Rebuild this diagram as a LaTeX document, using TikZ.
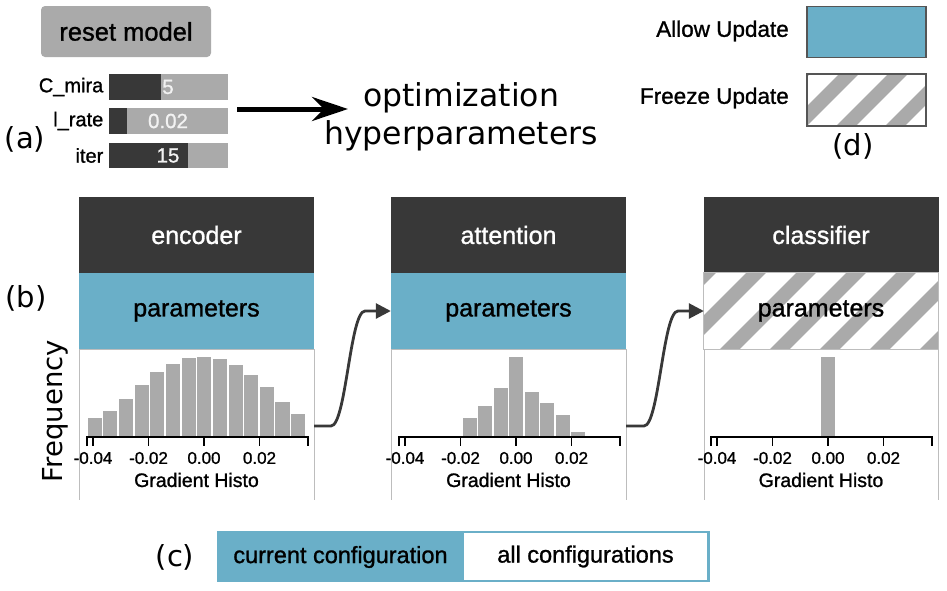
\documentclass[tikz,border=0pt]{standalone}
\usepackage{fontspec}
\setmainfont[FakeBold=1.1]{Liberation Sans}
\newfontfamily\dejavu{DejaVu Sans}
\usetikzlibrary{arrows.meta,calc}
\definecolor{blu}{HTML}{6AAFC8}
\definecolor{dark}{HTML}{383838}
\definecolor{bargray}{HTML}{AAAAAA}
\definecolor{edgegray}{HTML}{BDBDBD}
\definecolor{legedge}{HTML}{555555}
\definecolor{valtxt}{HTML}{F2F2F2}
\newcommand\fsz[1]{\fontsize{#1}{#1}\selectfont}
\tikzset{
  hdr/.style={fill=dark, text=white, minimum width=235pt, minimum height=76pt, inner sep=0pt, font=\fsz{25}},
  prm/.style={fill=blu, minimum width=235pt, minimum height=76pt, inner sep=0pt, font=\fsz{25}},
  hist/.style={minimum width=235pt, minimum height=151pt, inner sep=0pt},
  lbl/.style={inner sep=0pt, font=\fsz{20}},
  val/.style={inner sep=0pt, text=valtxt, font=\fsz{20.5}},
  tick/.style={inner sep=0pt, font=\fsz{17}},
  tag/.style={inner sep=0pt, font=\dejavu\fsz{29}},
  conn/.style={draw=dark, line width=2.8pt, rounded corners=4pt, -{Triangle[length=15pt,width=15pt]}},
  stripe/.style={bargray, line width=14pt},
}
% axis: #1 prefix, #2 x of 0.00, #3 panel centre
\newcommand\histaxis[3]{%
  \draw[line width=1.4pt] ({#2-117},446) -- ({#2-117},437) -- ({#2+104},437) -- ({#2+104},446);
  \foreach \v/\s [count=\k] in {-0.04/-111,-0.02/-55.5,0.00/0,0.02/55.5}{
    \draw[line width=1.4pt] ({#2+\s},437) -- ({#2+\s},446);
    \node[tick] (#1t\k) at ({#2+\s},458) {\v};
  }
  \node[tick, font=\fsz{19.5}] (#1ttl) at (#3,480) {Gradient Histo};
}
\begin{document}
\begin{tikzpicture}[x=1pt,y=-1pt]
\useasboundingbox (0,0) rectangle (947,590);
\fill[white] (0,0) rectangle (947,590);

% ---------- (a) ----------
\node[fill=bargray, rounded corners=4pt, minimum width=170pt, minimum height=51pt, inner sep=0pt, font=\fsz{25.5}] (reset) at (126,31.5) {reset model};

\fill[bargray] (108.5,74) rectangle (228,100);
\fill[dark] (108.5,74) rectangle (161,100);
\fill[bargray] (108.5,108) rectangle (228,134);
\fill[dark] (108.5,108) rectangle (127,134);
\fill[bargray] (108.5,143) rectangle (228,168);
\fill[dark] (108.5,143) rectangle (188,168);
\node[lbl, anchor=east] (l1) at (103.5,87) {C\_mira};
\node[lbl, anchor=east] (l2) at (103.5,121) {l\_rate};
\node[lbl, anchor=east] (l3) at (103.5,155.5) {iter};
\node[val] (v1) at (168,87) {5};
\node[val] (v2) at (168,121) {0.02};
\node[val] (v3) at (168,155.5) {15};
\node[tag] (ta) at (25,139) {(a)};

\coordinate (ar1) at (237,109);
\coordinate (ar2) at (348,109);
\draw[line width=5pt, -{Stealth[length=36pt,width=24pt,inset=12pt]}] (ar1) -- (ar2);
\node[inner sep=0pt, font=\dejavu\fsz{31.5}, anchor=base] (opt) at (461,106) {optimization};
\node[inner sep=0pt, font=\dejavu\fsz{31.5}, anchor=base] (hyp) at (461,144) {hyperparameters};

% ---------- (d) ----------
\node[inner sep=0pt, font=\fsz{22.5}, anchor=east] (allowt) at (789,31) {Allow Update};
\node[inner sep=0pt, font=\fsz{22.5}, anchor=east] (freezet) at (789,98) {Freeze Update};
\node[draw=legedge, line width=1.6pt, fill=blu, minimum width=119pt, minimum height=51pt, inner sep=0pt] (allow) at (866.5,32) {};
\node[fill=white, minimum width=119pt, minimum height=52pt, inner sep=0pt] (freeze) at (866.5,100) {};
\begin{scope}
  \clip (freeze.north west) rectangle (freeze.south east);
  \foreach \c in {712,761,810,859,908,957,1006}
    \draw[stripe] (\c,64) -- ++(-72,72);
\end{scope}
\draw[legedge, line width=1.6pt] (freeze.north west) rectangle (freeze.south east);
\node[tag] (td) at (853,146) {(d)};

% ---------- (b) panels ----------
\node[tag] (tb) at (26,298) {(b)};
\node[rotate=90, inner sep=0pt, font=\dejavu\fsz{27.5}] (freq) at (55,411) {Frequency};

% encoder
\node[hdr] (ehdr) at (196.5,235) {encoder};
\node[prm] (eprm) at (196.5,311) {parameters};
\node[hist] (ehist) at (196.5,424.5) {};
\draw[edgegray, line width=1pt] (79,349) -- (79,500) (314,349) -- (314,500) (79,349) -- (314,349);
\foreach \t [count=\i from 0] in {417.7,411,399.3,385,372.3,363.7,358.3,356.7,359,365,374.7,387.3,401.7,414.3}
  \fill[bargray] ({87+\i*15.64+0.8},436) rectangle ({87+(\i+1)*15.64-0.8},\t);
\histaxis{e}{204}{196.5}

% attention
\node[hdr] (ahdr) at (508.5,235) {attention};
\node[prm] (aprm) at (508.5,311) {parameters};
\node[hist] (ahist) at (508.5,424.5) {};
\draw[edgegray, line width=1pt] (391,349) -- (391,500) (626,349) -- (626,500) (391,349) -- (626,349);
\foreach \t [count=\i from 0] in {418.3,406,388.3,356.7,391.7,403.3,415.3,431.7}
  \fill[bargray] ({462+\i*15.5+0.8},436) rectangle ({462+(\i+1)*15.5-0.8},\t);
\histaxis{a}{516}{508.5}

% classifier
\node[hdr] (chdr) at (821,235) {classifier};
\node[fill=white, minimum width=234pt, minimum height=76pt, inner sep=0pt] (cprm) at (821,311) {};
\begin{scope}
  \clip (cprm.north west) rectangle (cprm.south east);
  \foreach \c in {666,716,766,816,866,916,966,1016}
    \draw[stripe] (\c,263) -- ++(-96,96);
\end{scope}
\draw[edgegray, line width=1pt] (cprm.north west) rectangle (cprm.south east);
\node[inner sep=0pt, font=\fsz{25}] (cprmt) at (cprm.center) {parameters};
\node[hist] (chist) at (821,424.5) {};
\draw[edgegray, line width=1pt] (704,349) -- (704,500) (938,349) -- (938,500);
\fill[bargray] (821,436) rectangle (835,357);
\histaxis{c}{828}{821}

% connectors
\coordinate (k1a) at (327,426);
\coordinate (k1b) at (369,311);
\draw[conn] (ehist.east |- k1a) -- (k1a) .. controls (346,426) and (350,311) .. (k1b) -- (aprm.west);
\coordinate (k2a) at (640,426);
\coordinate (k2b) at (682,311);
\draw[conn] (ahist.east |- k2a) -- (k2a) .. controls (659,426) and (663,311) .. (k2b) -- (cprm.west);

% ---------- (c) ----------
\node[tag] (tc) at (175,557) {(c)};
\node[fill=blu, minimum width=493pt, minimum height=51pt, inner sep=0pt] (tog) at (463.5,556.5) {};
\node[fill=white, minimum width=243pt, minimum height=47pt, inner sep=0pt, font=\fsz{23.5}] (allc) at (585.5,556.5) {all configurations};
\node[inner sep=0pt, font=\fsz{23.5}] (cur) at (340.5,557) {current configuration};
\end{tikzpicture}
\end{document}
